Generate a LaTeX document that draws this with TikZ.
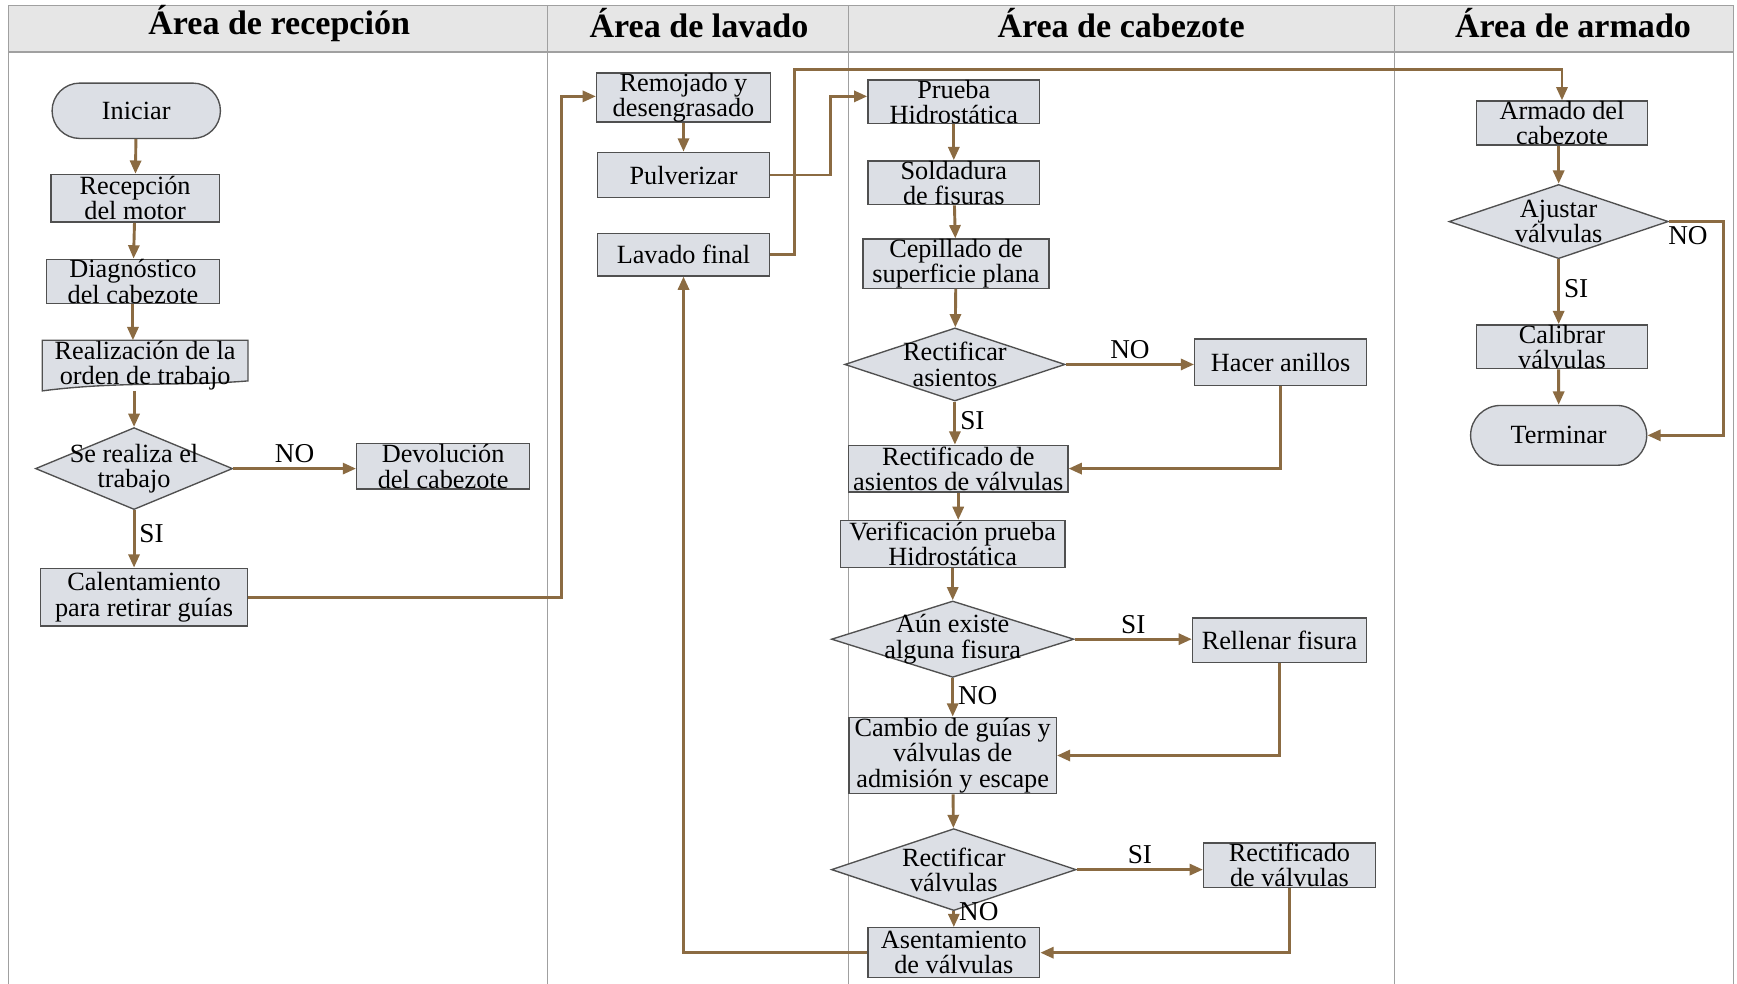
\documentclass[tikz,border=0pt]{standalone}
\usepackage{fontspec}
\setmainfont{Liberation Serif}
\usetikzlibrary{shapes.geometric, shapes.misc, arrows.meta, calc, backgrounds}
\definecolor{boxfill}{HTML}{DCDFE5}
\definecolor{boxline}{HTML}{505050}
\definecolor{flowcol}{HTML}{8B6B42}
\definecolor{headfill}{HTML}{E6E6E6}
\definecolor{lanecol}{HTML}{A0A0A0}
\begin{document}
\begin{tikzpicture}
[
x = 0.02cm, y = -0.02cm,
lane/.style = {draw = lanecol, line width = 0.6pt},
process/.style = {rectangle, draw = boxline, fill = boxfill, line width = 0.7pt, inner sep = 0pt, align = center, font = \fontsize{13.5}{13}\selectfont},
document/.style = {rectangle, inner sep = 0pt, align = center, font = \fontsize{13.5}{13}\selectfont},
outline/.style = {draw = boxline, fill = boxfill, line width = 0.7pt},
terminal/.style = {rounded rectangle, draw = boxline, fill = boxfill, line width = 0.7pt, inner sep = 0pt, font = \fontsize{13.5}{13}\selectfont},
decision/.style = {diamond, draw = boxline, fill = boxfill, line width = 0.7pt, inner sep = 0pt, label = {[align = center, font = \fontsize{13.5}{13}\selectfont]center:{#1}}},
flow/.style = {draw = flowcol, line width = 1.5pt, -{Triangle[length = 0.24cm, width = 0.2cm]}},
answer/.style = {font = \fontsize{14}{14}\selectfont, inner sep = 2pt},
heading/.style = {font = \fontsize{17.5}{20}\selectfont\bfseries}
]
    \useasboundingbox (0,0) rectangle (1568,888);

    % swimlanes
    \fill[headfill] (8,5) rectangle (1565,47);
    \draw[lane] (8,5) rectangle (1565,47);
    \foreach \x in {8, 494, 766, 1259, 1565}
        \draw[lane] (\x,5) -- (\x,888);
    \node[heading] (hrecep) at (252,21) {Área de recepción};
    \node[heading] (hlavado) at (631,21) {Área de lavado};
    \node[heading] (hcabez) at (1012,21) {Área de cabezote};
    \node[heading] (harmado) at (1420,21) {Área de armado};

    % recepcion
    \node[terminal, minimum width = 3.04cm, minimum height = 1cm] (ini) at (123,100) {Iniciar};
    \node[process, minimum width = 3.04cm, minimum height = 0.86cm] (recep) at (122,179) {Recepción\\del motor};
    \node[process, minimum width = 3.12cm, minimum height = 0.8cm] (diag) at (120,254) {Diagnóstico\\del cabezote};
    \node[document, minimum width = 3.7cm, minimum height = 0.9cm] (orden) at (131,330) {Realización de la\\orden de trabajo};
    \begin{scope}[on background layer]
        \draw[outline] (orden.north west) -- (orden.north east) -- ($(orden.south east)+(0,-9)$)
            .. controls ($(orden.south east)+(-60,-4)$) and ($(orden.south west)+(70,-9)$) .. (orden.south west) -- cycle;
    \end{scope}
    \node[decision = {Se realiza el\\trabajo}, minimum width = 3.56cm, minimum height = 1.48cm] (dec1) at (121,423) {};
    \node[process, minimum width = 3.12cm, minimum height = 0.82cm] (devol) at (400,421) {Devolución\\del cabezote};
    \node[process, minimum width = 3.74cm, minimum height = 1.04cm] (calent) at (130,539) {Calentamiento\\para retirar guías};

    % lavado
    \node[process, minimum width = 3.14cm, minimum height = 0.8cm] (remoj) at (617,88) {Remojado y\\desengrasado};
    \node[process, minimum width = 3.1cm, minimum height = 0.82cm] (pulv) at (617,158) {Pulverizar};
    \node[process, minimum width = 3.1cm, minimum height = 0.76cm] (lavado) at (617,230) {Lavado final};

    % cabezote
    \node[process, minimum width = 3.1cm, minimum height = 0.76cm] (prueba) at (861,92) {Prueba\\Hidrostática};
    \node[process, minimum width = 3.1cm, minimum height = 0.76cm] (sold) at (861,165) {Soldadura\\de fisuras};
    \node[process, minimum width = 3.36cm, minimum height = 0.84cm] (cepill) at (863,238) {Cepillado de\\superficie plana};
    \node[decision = {Rectificar\\asientos}, minimum width = 3.98cm, minimum height = 1.32cm] (dec2) at (862,329) {};
    \node[process, minimum width = 3.1cm, minimum height = 0.84cm] (anillos) at (1156,327) {Hacer anillos};
    \node[process, minimum width = 3.96cm, minimum height = 0.84cm] (rectas) at (865,423) {Rectificado de\\asientos de válvulas};
    \node[process, minimum width = 4.06cm, minimum height = 0.84cm] (verif) at (860,491) {Verificación prueba\\Hidrostática};
    \node[decision = {Aún existe\\alguna fisura}, minimum width = 4.38cm, minimum height = 1.38cm] (dec3) at (860,577) {};
    \node[process, minimum width = 3.14cm, minimum height = 0.8cm] (rellenar) at (1155,578) {Rellenar fisura};
    \node[process, minimum width = 3.74cm, minimum height = 1.38cm] (cambio) at (860,682) {Cambio de guías y\\válvulas de\\admisión y escape};
    \node[decision = {Rectificar\\válvulas}, minimum width = 4.42cm, minimum height = 1.48cm] (dec4) at (861,785) {};
    \node[process, minimum width = 3.1cm, minimum height = 0.76cm] (rectval) at (1164,781) {Rectificado\\de válvulas};
    \node[process, minimum width = 3.1cm, minimum height = 0.9cm] (asent) at (861,860) {Asentamiento\\de válvulas};

    % armado
    \node[process, minimum width = 3.08cm, minimum height = 0.76cm] (armado) at (1410,111) {Armado del\\cabezote};
    \node[decision = {Ajustar\\válvulas}, minimum width = 3.96cm, minimum height = 1.34cm] (dec5) at (1407,200) {};
    \node[process, minimum width = 3.08cm, minimum height = 0.76cm] (calib) at (1410,313) {Calibrar\\válvulas};
    \node[terminal, minimum width = 3.18cm, minimum height = 1.08cm] (term) at (1407,393) {Terminar};

    \coordinate (bend1) at (507,87);
    \coordinate (bend2) at (750,87);
    \coordinate (bend3) at (717,63);

    \draw[flow] (ini) -- (recep);
    \draw[flow] (recep) -- (diag);
    \draw[flow] (diag) -- (diag |- orden.north);
    \draw[flow] (dec1.north |- orden.south) -- (dec1);
    \draw[flow] (dec1.east) -- node[answer, above] {NO} (dec1.east -| devol.west);
    \draw[flow] (dec1.south) -- node[answer, right, pos = 0.4] {SI} (dec1.south |- calent.north);
    \draw[flow] (calent.east) -| (bend1) -- (remoj.west |- bend1);

    \draw[flow] (remoj) -- (pulv);
    \draw[flow] (pulv.east) -| (bend2) -- (prueba.west |- bend2);
    \draw[flow] (lavado.east) -| (bend3) -| (armado.north);
    \draw[flow] (asent.west) -| (lavado.south);

    \draw[flow] (prueba) -- (sold);
    \draw[flow] (sold) -- (cepill);
    \draw[flow] (cepill) -- (dec2);
    \draw[flow] (dec2.east) -- node[answer, above] {NO} (dec2.east -| anillos.west);
    \draw[flow] (anillos.south) |- (rectas.east);
    \draw[flow] (dec2) -- node[answer, right, pos = 0.45] {SI} (dec2 |- rectas.north);
    \draw[flow] (rectas) -- (rectas |- verif.north);
    \draw[flow] (verif) -- (dec3);
    \draw[flow] (dec3.east) -- node[answer, above] {SI} (dec3.east -| rellenar.west);
    \draw[flow] (rellenar.south) |- (cambio.east);
    \draw[flow] (dec3) -- node[answer, right, pos = 0.45] {NO} (cambio);
    \draw[flow] (cambio) -- (dec4);
    \draw[flow] (dec4.east) -- node[answer, above] {SI} (dec4.east -| rectval.west);
    \draw[flow] (rectval.south) |- (asent.east);
    \draw[flow] (dec4) -- node[answer, right, pos = 0] {NO} (asent);

    \draw[flow] (armado.south -| dec5.north) -- (dec5);
    \draw[flow] (dec5) -- node[answer, right, pos = 0.45] {SI} (dec5 |- calib.north);
    \draw[flow] (calib.south -| term.north) -- (term);
    \draw[flow] (dec5.east) -- node[answer, below, pos = 0.35] {NO} ++(49,0) |- (term.east);
\end{tikzpicture}
\end{document}
